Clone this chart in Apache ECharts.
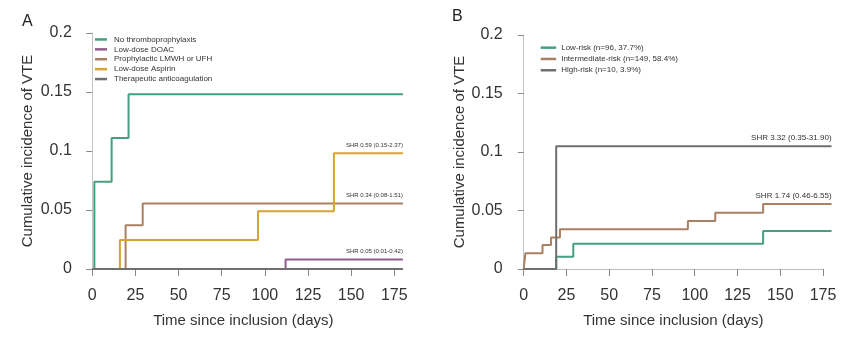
<!DOCTYPE html>
<html>
<head>
<meta charset="utf-8">
<script src="https://cdn.jsdelivr.net/npm/echarts@6/dist/echarts.min.js"></script>
<style>html,body{margin:0;padding:0;background:#fff;}#c{width:866px;height:356px;}</style>
</head>
<body>
<div id="c"></div>
<script>
// ---------- Panel A data ----------
const aNames = ['No thromboprophylaxis', 'Low-dose DOAC', 'Prophylactic LMWH or UFH', 'Low-dose Aspirin', 'Therapeutic anticoagulation'];
const aNoProphT = [0, 1.2, 11.2, 21, 180];
const aNoProphV = [0, 0.074, 0.111, 0.148, 0.148];
const aDoacT = [0, 112, 180];
const aDoacV = [0, 0.008, 0.008];
const aLmwhT = [0, 19.3, 29.2, 180];
const aLmwhV = [0, 0.037, 0.0555, 0.0555];
const aAspT = [0, 16, 96, 140, 180];
const aAspV = [0, 0.0245, 0.049, 0.098, 0.098];
const aTherT = [0, 180];
const aTherV = [0, 0];
const aShr = [null, 'SHR 0.05 (0.01-0.42)', 'SHR 0.34 (0.08-1.51)', 'SHR 0.59 (0.15-2.37)', null];

// ---------- Panel B data ----------
const bNames = ['Low-risk (n=96, 37.7%)', 'Intermediate-risk (n=149, 58.4%)', 'High-risk (n=10, 3.9%)'];
const bLowT = [0, 19, 29, 140, 180];
const bLowV = [0, 0.0105, 0.0215, 0.0325, 0.0325];
const bIntT = [0, 1, 11, 16, 21.2, 96, 112, 140, 180];
const bIntV = [0, 0.0135, 0.0205, 0.027, 0.034, 0.041, 0.048, 0.0555, 0.0555];
const bHighT = [0, 19, 180];
const bHighV = [0, 0.105, 0.105];
const bShr = [null, 'SHR 1.74 (0.46-6.55)', 'SHR 3.32 (0.35-31.90)'];

// ---------- Axes ----------
const xTicks = [0, 25, 50, 75, 100, 125, 150, 175];
const yTicks = [0, 0.05, 0.1, 0.15, 0.2];
const yTickLabels = ['0', '0.05', '0.1', '0.15', '0.2'];
const xTitle = 'Time since inclusion (days)';
const yTitle = 'Cumulative incidence of VTE';

const COLORS = {
  green: '#45a07d', purple: '#8f5e8f', brown: '#a98062', gold: '#d7a332', gray: '#6f6f6f'
};
const aColors = [COLORS.green, COLORS.purple, COLORS.brown, COLORS.gold, COLORS.gray];
const bColors = [COLORS.green, COLORS.brown, COLORS.gray];

const FONT = 'Liberation Sans, Arial, sans-serif';

function mk(times, vals, shr, shrSize, shrDist) {
  return times.map((t, i) => {
    const item = { value: [t, vals[i]] };
    if (i === times.length - 1 && shr) {
      item.label = {
        show: true, formatter: shr, position: 'top', align: 'right',
        distance: shrDist, fontSize: shrSize, color: '#333', fontFamily: FONT
      };
    }
    return item;
  });
}

function series(name, times, vals, color, xi, yi, shr, shrSize, shrDist) {
  return {
    name, type: 'line', step: 'end', xAxisIndex: xi, yAxisIndex: yi,
    showSymbol: true, showAllSymbol: true, symbol: 'circle', symbolSize: 0, animation: false,
    lineStyle: { color, width: 2 }, itemStyle: { color },
    label: { show: false },
    emphasis: { disabled: true },
    data: mk(times, vals, shr, shrSize, shrDist)
  };
}

function yAxisCfg(grid, offset, gap) {
  return {
    type: 'value', gridIndex: grid, min: 0, max: 0.2, interval: 0.05, offset,
    name: yTitle, nameLocation: 'middle', nameGap: gap,
    nameTextStyle: { fontSize: 15, color: '#333', fontFamily: FONT },
    axisLine: { show: true, lineStyle: { color: '#c4c4c4', width: 1 } },
    axisTick: { show: true, length: 6, lineStyle: { color: '#888' } },
    axisLabel: {
      margin: 13, fontSize: 16, color: '#333', fontFamily: FONT,
      formatter: v => { const i = yTicks.findIndex(t => Math.abs(t - v) < 1e-9); return i >= 0 ? yTickLabels[i] : ''; }
    },
    splitLine: { show: false }
  };
}
function xDataAxis(grid) {
  return { type: 'value', gridIndex: grid, min: 0, max: 180, show: false, splitLine: { show: false } };
}
function xDispAxis(grid) {
  return {
    type: 'value', gridIndex: grid, min: 0, max: 175, interval: 25, offset: 6,
    name: xTitle, nameLocation: 'middle', nameGap: 38,
    nameTextStyle: { fontSize: 15, color: '#333', fontFamily: FONT },
    axisLine: { show: true, lineStyle: { color: '#bdbdbd', width: 1 } },
    axisTick: { show: true, length: 7, lineStyle: { color: '#888' } },
    axisLabel: { margin: 13, fontSize: 16, color: '#333', fontFamily: FONT,
      formatter: v => xTicks.includes(v) ? String(v) : '' },
    splitLine: { show: false }
  };
}
function yHidden(grid) {
  return { type: 'value', gridIndex: grid, min: 0, max: 0.2, show: false, splitLine: { show: false } };
}

const pxA = 302 / 175, pxB = 299.3 / 175;

const option = {
  animation: false,
  backgroundColor: '#fff',
  title: [
    { text: 'A', left: 17, top: 9, textStyle: { fontSize: 16, fontWeight: 'normal', color: '#222', fontFamily: FONT } },
    { text: 'B', left: 447, top: 4, textStyle: { fontSize: 16, fontWeight: 'normal', color: '#222', fontFamily: FONT } }
  ],
  grid: [
    { left: 92.3, top: 33, width: 180 * pxA, height: 236 },
    { left: 92.3, top: 33, width: 175 * pxA, height: 236 },
    { left: 523.7, top: 35, width: 180 * pxB, height: 234 },
    { left: 523.7, top: 35, width: 175 * pxB, height: 234 }
  ],
  xAxis: [xDataAxis(0), xDispAxis(1), xDataAxis(2), xDispAxis(3)],
  yAxis: [yAxisCfg(0, 7.5, 49), yHidden(1), yAxisCfg(2, 8, 48), yHidden(3)],
  legend: [
    {
      data: aNames, orient: 'vertical', left: 95, top: 34.5, padding: 0, itemWidth: 12, itemHeight: 2.5, itemGap: 0,
      icon: 'rect', selectedMode: false,
      textStyle: { fontSize: 8, lineHeight: 9.9, color: '#333', fontFamily: FONT, padding: [0, 0, 0, 2] }
    },
    {
      data: bNames, orient: 'vertical', left: 540.7, top: 42, padding: 0, itemWidth: 15.5, itemHeight: 2.5, itemGap: 0,
      icon: 'rect', selectedMode: false,
      textStyle: { fontSize: 8, lineHeight: 11.3, color: '#333', fontFamily: FONT, padding: [0, 0, 0, 0] }
    }
  ],
  series: [
    series(aNames[0], aNoProphT, aNoProphV, aColors[0], 0, 0, aShr[0], 6, 5),
    series(aNames[1], aDoacT, aDoacV, aColors[1], 0, 0, aShr[1], 6, 5),
    series(aNames[2], aLmwhT, aLmwhV, aColors[2], 0, 0, aShr[2], 6, 5),
    series(aNames[3], aAspT, aAspV, aColors[3], 0, 0, aShr[3], 6, 5),
    series(aNames[4], aTherT, aTherV, aColors[4], 0, 0, aShr[4], 6, 5),
    series(bNames[0], bLowT, bLowV, bColors[0], 2, 2, bShr[0], 8, 4),
    series(bNames[1], bIntT, bIntV, bColors[1], 2, 2, bShr[1], 8, 4),
    series(bNames[2], bHighT, bHighV, bColors[2], 2, 2, bShr[2], 8, 4)
  ]
};

const chart = echarts.init(document.getElementById('c'), null, { renderer: 'canvas' });
chart.setOption(option);
</script>
</body>
</html>
